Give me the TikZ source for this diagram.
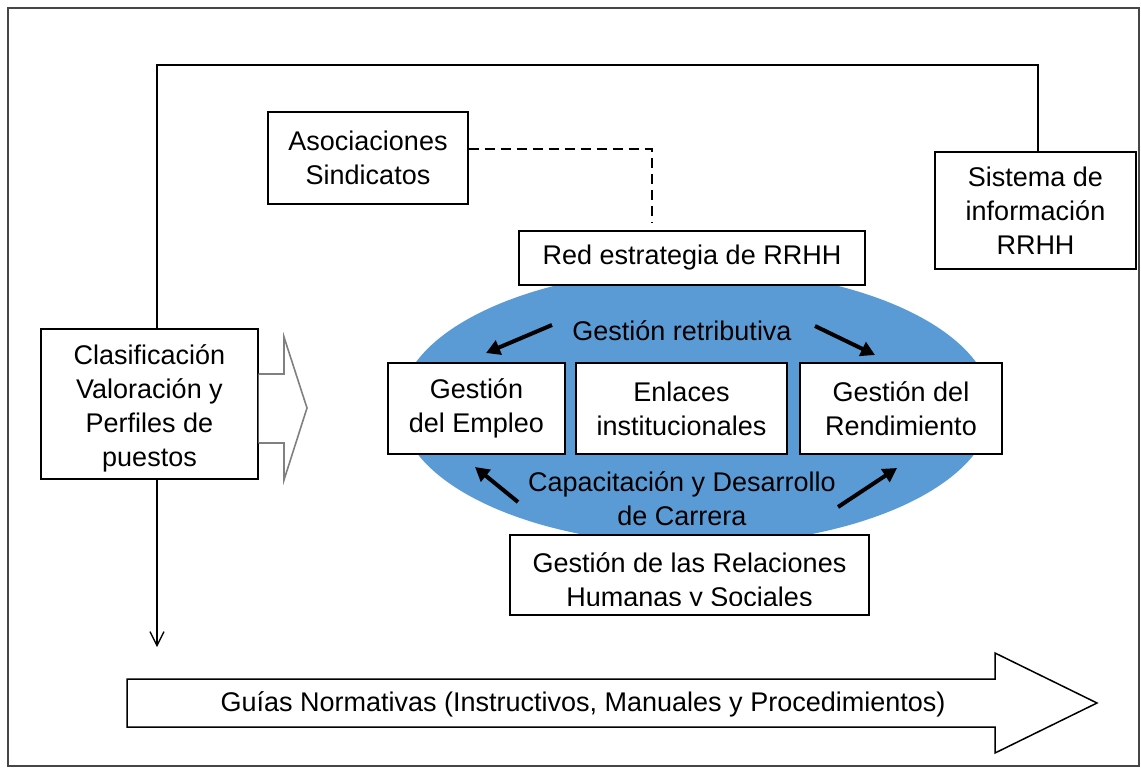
\documentclass[tikz,border=0pt]{standalone}
\usepackage{fontspec}
\setmainfont{Liberation Sans}
\usetikzlibrary{arrows.meta,shapes.geometric}
\definecolor{ovalblue}{RGB}{91,155,213}
\definecolor{framegray}{RGB}{70,70,70}
\definecolor{arrowgray}{RGB}{128,128,128}
\begin{document}
\begin{tikzpicture}[x=1pt,y=-1pt,font=\fontsize{27}{34}\selectfont,
    box/.style={draw=black,fill=white,line width=1.3pt,inner sep=0pt,align=center},
    boldarrow/.style={line width=4pt,-{Triangle[length=14pt,width=15pt]}}]
            \useasboundingbox (0,0) rectangle (1141,768);
            \draw[line width=1.3pt,framegray] (8,8) rectangle (1139,766);

            \node[ellipse,fill=ovalblue,inner sep=0pt,minimum width=592,minimum height=276] (oval) at (696,407) {};

            \node[box,minimum width=200,minimum height=92] (asoc) at (368,158) {Asociaciones\\Sindicatos};
            \node[box,minimum width=201,minimum height=117] (sist) at (1035.5,210.5) {Sistema de\\información\\RRHH};
            \node[box,minimum width=346,minimum height=54] (red) at (692,258) {Red estrategia de RRHH};
            \node[box,minimum width=217,minimum height=150] (clas) at (149.5,404) {};
            \node[align=center] (clastxt) at (149.5,408) {Clasificación\\Valoración y\\Perfiles de\\puestos};
            \node[box,minimum width=177,minimum height=91] (empleo) at (476.5,408.5) {Gestión\\del Empleo};
            \node[box,minimum width=211,minimum height=91] (enlace) at (681.5,408.5) {Enlaces\\institucionales};
            \node[box,minimum width=202,minimum height=91] (rend) at (901,408.5) {Gestión del\\Rendimiento};
            \node[box,minimum width=359,minimum height=80] (relac) at (689.5,575) {};
            \begin{scope}
                \clip (relac.north west) rectangle ([yshift=10pt]relac.south east);
                \node[align=center] (relactxt) at (689.5,582) {Gestión de las Relaciones\\Humanas y Sociales};
            \end{scope}

            \node (retrib) at (682,331) {Gestión retributiva};
            \node[align=center] (capac) at (682,499) {Capacitación y Desarrollo\\de Carrera};

            \coordinate (ra) at (552,325);
            \coordinate (rb) at (815,326);
            \coordinate (ca) at (518,502);
            \coordinate (cb) at (838,507);
            \draw[boldarrow] (ra) -- (486,353);
            \draw[boldarrow] (rb) -- (875,355);
            \draw[boldarrow] (ca) -- (475,467);
            \draw[boldarrow] (cb) -- (897,468);

            \coordinate (dash) at (652,149);
            \draw[line width=1.3pt,dash pattern=on 10pt off 6pt,shorten >=8pt] (asoc.east |- dash) -- (dash) -- (red.north -| dash);

            \coordinate (topleft) at (157,65);
            \coordinate (topright) at (1038,65);
            \coordinate (down) at (157,647);
            \draw[line width=1.3pt] (clas.north -| topleft) -- (topleft) -- (topright) -- (sist.north -| topright);
            \draw[line width=1.3pt,-{Straight Barb[length=14pt,width=14pt]}] (clas.south -| down) -- (down);

            \draw[arrowgray,fill=white,line width=1.6pt] (clas.east |- 0,374) -- (284,374) -- (284,337) -- (307,408) -- (284,480) -- (284,443) -- (clas.east |- 0,443);

            \draw[line width=1.5pt,fill=white] (127,679) -- (995,679) -- (995,653) -- (1097,703) -- (995,753) -- (995,727) -- (127,727) -- cycle;
            \node (guias) at (583,704) {Guías Normativas (Instructivos, Manuales y Procedimientos)};
\end{tikzpicture}
\end{document}
